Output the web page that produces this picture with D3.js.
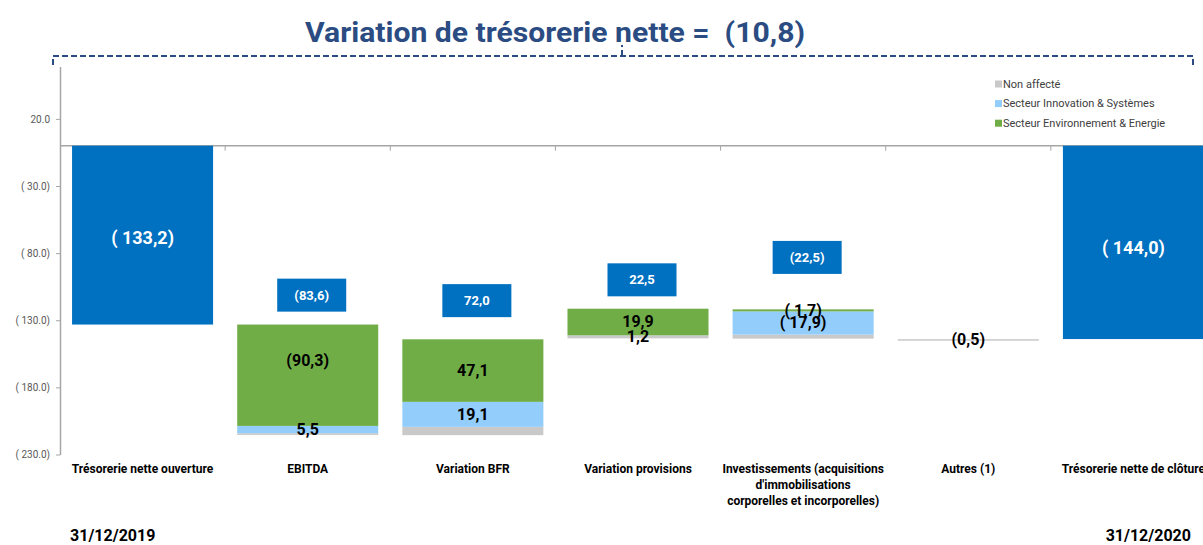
<!DOCTYPE html>
<html>
<head>
<meta charset="utf-8">
<script src="https://cdn.jsdelivr.net/npm/d3@7"></script>
<style>
  body { margin: 0; background: #fff; }
  svg { display: block; font-family: Roboto, "Noto Sans", sans-serif; }
</style>
</head>
<body>
<svg id="chart" width="1203" height="545"></svg>
<script>
// categories of the waterfall
const categories = ['ouverture', 'ebitda', 'bfr', 'provisions', 'invest', 'autres', 'cloture'];
const categoryLines = [
  ['Trésorerie nette ouverture'],
  ['EBITDA'],
  ['Variation BFR'],
  ['Variation provisions'],
  ['Investissements (acquisitions', "d'immobilisations", 'corporelles et incorporelles)'],
  ['Autres (1)'],
  ['Trésorerie nette de clôture']
];

// opening / closing totals
const totalValues = [-133.2, null, null, null, null, null, -144.0];
const totalLabels = ['( 133,2)', null, null, null, null, null, '( 144,0)'];

// each step bar: bottom value, then stacked segments
const stepBase      = [null, -215.4, -215.6, -143.5, -143.7, -144.6, null];
const nonAffecte    = [null, 1.3, 6.2, 2.3, 3.0, 0.5, null];
const innovation    = [null, 5.4, 18.6, 0, 17.3, 0, null];
const environnement = [null, 75.5, 46.6, 19.8, 1.5, 0, null];

const nonAffecteLabels    = [null, null, null, '1,2', null, '(0,5)', null];
const innovationLabels    = [null, '5,5', '19,1', null, '( 17,9)', null, null];
const environnementLabels = [null, '(90,3)', '47,1', '19,9', '( 1,7)', null, null];
const environnementLabelAt = [null, -159.7, null, null, null, null, null];

// step totals shown in the blue boxes
const stepLabels = [null, '(83,6)', '72,0', '22,5', '(22,5)', null, null];
const stepLabelAt = [null, -111.3, -115.4, -99.9, -83.2, null, null];

const yTicks = [20, -30, -80, -130, -180, -230];
const legendItems = ['Non affecté', 'Secteur Innovation & Systèmes', 'Secteur Environnement & Energie'];
const dates = ['31/12/2019', '31/12/2020'];

const colors = { total: '#0070c0', nonAffecte: '#c9c9c9', innovation: '#93cdfb', environnement: '#70ad47' };
const titleColor = '#2b4c82';

const svg = d3.select('#chart');

const x = d3.scaleBand()
  .domain(categories)
  .range([60, 1216])
  .paddingInner(0.146)
  .paddingOuter(0.073);

const y = d3.scaleLinear()
  .domain([-230, 59])
  .range([454.5, 66.5]);

const fmtTick = v => v >= 0 ? v.toFixed(1) : '( ' + (-v).toFixed(1) + ')';

// y axis
const yAxis = svg.append('g')
  .attr('transform', 'translate(60,0)')
  .call(d3.axisLeft(y).tickValues(yTicks).tickFormat(fmtTick).tickSize(4).tickSizeOuter(0).tickPadding(6));
yAxis.select('.domain').attr('stroke', '#a6a6a6').attr('stroke-width', 1.5);
yAxis.selectAll('.tick line').attr('stroke', '#a6a6a6');
yAxis.selectAll('.tick text').attr('fill', '#595959').style('font-size', '10px').style('font-family', 'Roboto, sans-serif');

// zero baseline with category separators
const base = svg.append('g');
base.append('line')
  .attr('x1', 60).attr('x2', 1203)
  .attr('y1', y(0)).attr('y2', y(0))
  .attr('stroke', '#a6a6a6').attr('stroke-width', 1.5);
const half = x.step() * x.paddingInner() / 2;
categories.slice(1).forEach(c => {
  base.append('line')
    .attr('x1', x(c) - half).attr('x2', x(c) - half)
    .attr('y1', y(0)).attr('y2', y(0) + 5)
    .attr('stroke', '#a6a6a6');
});

// opening and closing bars
categories.forEach((c, i) => {
  if (totalValues[i] === null) return;
  svg.append('rect')
    .attr('x', x(c)).attr('width', x.bandwidth())
    .attr('y', y(0)).attr('height', y(totalValues[i]) - y(0))
    .attr('fill', colors.total);
  svg.append('text')
    .attr('x', x(c) + x.bandwidth() / 2)
    .attr('y', (y(0) + y(totalValues[i])) / 2 + (i === 0 ? 2 : 5))
    .attr('text-anchor', 'middle').attr('dominant-baseline', 'central')
    .attr('fill', '#fff').style('font-size', '18px').style('font-weight', 'bold')
    .style('white-space', 'pre')
    .text(totalLabels[i]);
});

// stacked step bars
const series = [
  { key: 'nonAffecte', values: nonAffecte, labels: nonAffecteLabels, at: [] },
  { key: 'innovation', values: innovation, labels: innovationLabels, at: [] },
  { key: 'environnement', values: environnement, labels: environnementLabels, at: environnementLabelAt }
];
const labelLayer = [];
categories.forEach((c, i) => {
  if (stepBase[i] === null) return;
  let lo = stepBase[i];
  series.forEach(s => {
    const v = s.values[i];
    const hi = lo + v;
    if (v > 0) {
      const h = Math.max(y(lo) - y(hi), 1.5);
      svg.append('rect')
        .attr('x', x(c)).attr('width', x.bandwidth())
        .attr('y', y(hi)).attr('height', h)
        .attr('fill', colors[s.key]);
    }
    if (s.labels[i]) {
      const at = s.at[i] != null ? s.at[i] : (lo + hi) / 2;
      labelLayer.push({ x: x(c) + x.bandwidth() / 2, y: y(at), text: s.labels[i] });
    }
    lo = hi;
  });
});

labelLayer.forEach(l => {
  svg.append('text')
    .attr('x', l.x).attr('y', l.y)
    .attr('text-anchor', 'middle').attr('dominant-baseline', 'central')
    .attr('fill', '#000').style('font-size', '16px').style('font-weight', 'bold')
    .style('white-space', 'pre')
    .text(l.text);
});

// blue boxes with the step totals
categories.forEach((c, i) => {
  if (!stepLabels[i]) return;
  const cx = x(c) + x.bandwidth() / 2 + 4;
  const cy = y(stepLabelAt[i]);
  svg.append('rect')
    .attr('x', cx - 34.5).attr('y', cy - 16.5)
    .attr('width', 69).attr('height', 33)
    .attr('fill', colors.total);
  svg.append('text')
    .attr('x', cx).attr('y', cy)
    .attr('text-anchor', 'middle').attr('dominant-baseline', 'central')
    .attr('fill', '#fff').style('font-size', '13px').style('font-weight', 'bold')
    .text(stepLabels[i]);
});

// category labels
categories.forEach((c, i) => {
  const t = svg.append('text')
    .attr('x', x(c) + x.bandwidth() / 2)
    .attr('y', 473)
    .attr('text-anchor', 'middle')
    .attr('fill', '#000').style('font-size', '12px').style('font-weight', 'bold');
  categoryLines[i].forEach((line, k) => {
    t.append('tspan').attr('x', x(c) + x.bandwidth() / 2).attr('dy', k === 0 ? 0 : 16).text(line);
  });
});

// dates
svg.append('text')
  .attr('x', x(categories[0]) - 2).attr('y', 541)
  .attr('fill', '#000').style('font-size', '16px').style('font-weight', 'bold')
  .text(dates[0]);
svg.append('text')
  .attr('x', x(categories[6]) + x.bandwidth() - 13).attr('y', 541)
  .attr('text-anchor', 'end')
  .attr('fill', '#000').style('font-size', '16px').style('font-weight', 'bold')
  .text(dates[1]);

// legend
const legendKeys = ['nonAffecte', 'innovation', 'environnement'];
const legend = svg.append('g').attr('transform', 'translate(995,84)');
legendItems.forEach((name, i) => {
  const g = legend.append('g').attr('transform', `translate(0,${i * 19.6})`);
  g.append('rect').attr('x', 0).attr('y', -3.5).attr('width', 7).attr('height', 7).attr('fill', colors[legendKeys[i]]);
  g.append('text').attr('x', 8).attr('y', 0)
    .attr('dominant-baseline', 'central')
    .attr('fill', '#404040').style('font-size', '11px')
    .text(name);
});

// title and dashed bracket
svg.append('text')
  .attr('x', 555).attr('y', 42)
  .attr('text-anchor', 'middle')
  .attr('fill', titleColor).style('font-size', '28px').style('font-weight', 'bold')
  .style('white-space', 'pre')
  .attr('textLength', 500).attr('lengthAdjust', 'spacingAndGlyphs')
  .text('Variation de trésorerie nette =  (10,8)');

svg.append('path')
  .attr('d', 'M53,65 L53,56 L1193,56 L1193,65 M622,56 L622,45')
  .attr('fill', 'none')
  .attr('stroke', titleColor).attr('stroke-width', 2)
  .attr('stroke-dasharray', '6,3');
</script>
</body>
</html>
